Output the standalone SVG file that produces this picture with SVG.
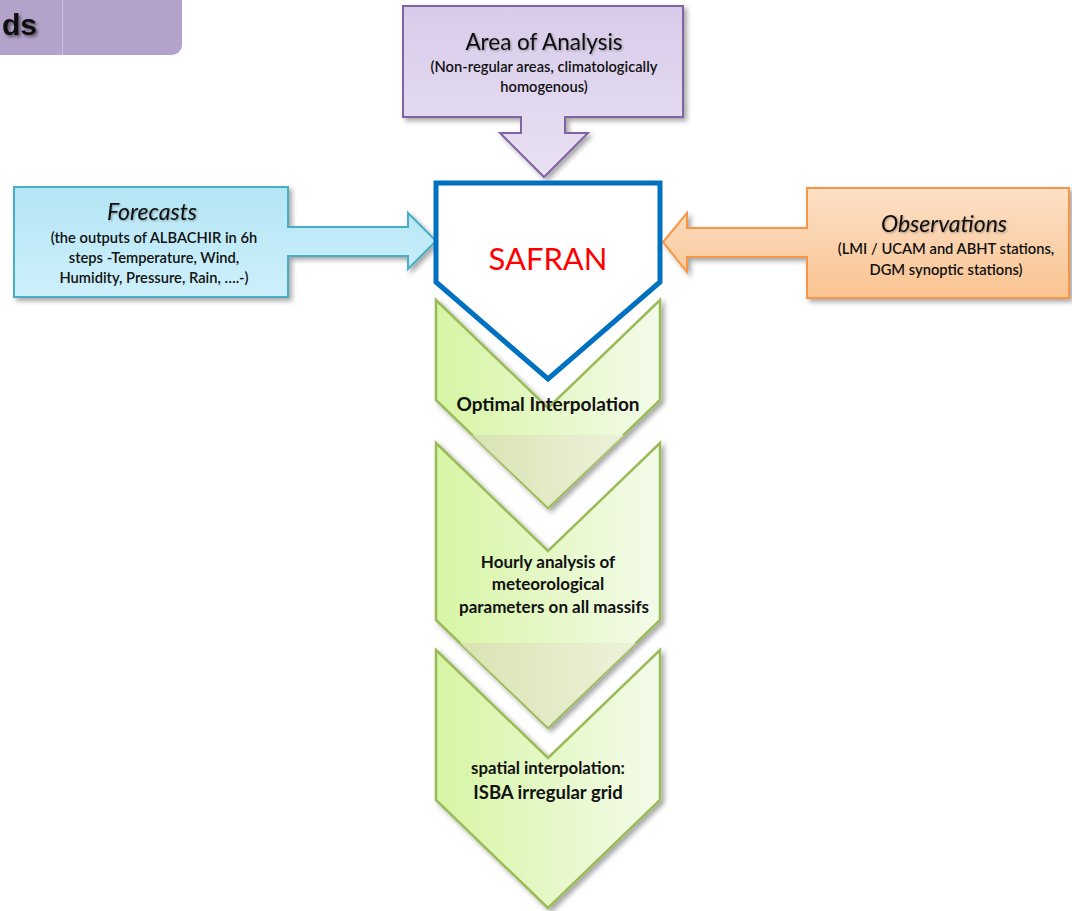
<svg xmlns="http://www.w3.org/2000/svg" width="1072" height="911" viewBox="0 0 1072 911">
<defs>
  <filter id="sh" x="-10%" y="-10%" width="130%" height="130%">
    <feDropShadow dx="3" dy="3" stdDeviation="2.5" flood-color="#000" flood-opacity="0.35"/>
  </filter>
  <filter id="tsh" x="-10%" y="-20%" width="130%" height="160%">
    <feDropShadow dx="1" dy="1" stdDeviation="1" flood-color="#000" flood-opacity="0.35"/>
  </filter>
  <filter id="tsh2" x="-20%" y="-30%" width="150%" height="180%">
    <feDropShadow dx="2" dy="2" stdDeviation="1.5" flood-color="#000" flood-opacity="0.5"/>
  </filter>
  <linearGradient id="gPurple" x1="0" y1="0" x2="0" y2="1">
    <stop offset="0" stop-color="#d8cbea"/>
    <stop offset="1" stop-color="#e9e1f3"/>
  </linearGradient>
  <linearGradient id="gBlue" x1="0" y1="0" x2="0" y2="1">
    <stop offset="0" stop-color="#b4e5f5"/>
    <stop offset="1" stop-color="#cdf0fb"/>
  </linearGradient>
  <linearGradient id="gOrange" x1="0" y1="0" x2="0" y2="1">
    <stop offset="0" stop-color="#fde0c6"/>
    <stop offset="1" stop-color="#f9c492"/>
  </linearGradient>
  <linearGradient id="gGreen" x1="0" y1="0" x2="1" y2="0">
    <stop offset="0" stop-color="#d6f5a4"/>
    <stop offset="1" stop-color="#f4fbea"/>
  </linearGradient>
  <linearGradient id="gTip" x1="0" y1="0" x2="1" y2="0">
    <stop offset="0" stop-color="#d9e0b2"/>
    <stop offset="1" stop-color="#eef0da"/>
  </linearGradient>
  <style>
    .callP { fill: url(#gPurple); stroke: #8064a2; stroke-width: 2; filter: url(#sh); }
    .callB { fill: url(#gBlue); stroke: #4bacc6; stroke-width: 2; filter: url(#sh); }
    .callO { fill: url(#gOrange); stroke: #f79646; stroke-width: 2; filter: url(#sh); }
    .chev { fill: url(#gGreen); stroke: #9bbb59; stroke-width: 2.5; stroke-linejoin: miter; filter: url(#sh); }
    .tip { fill: url(#gTip); opacity: 0.85; }
    .t { font-family: Lato, "Open Sans", "Liberation Sans", sans-serif; fill: #111; text-anchor: middle; }
    .title { font-size: 22.5px; }
    .ital { font-style: italic; font-size: 23px; }
    .sub { font-size: 14.7px; font-weight: 600; }
    .chevT { font-weight: bold; }
  </style>
</defs>
<rect width="1072" height="911" fill="#ffffff"/>

<g id="header-tab">
  <rect x="-12" y="-12" width="194" height="67" rx="10" fill="#b3a2c9"/>
  <line x1="62.5" y1="0" x2="62.5" y2="55" stroke="#cbbfdb" stroke-width="1"/>
  <text x="37" y="35" text-anchor="end" font-family="'Liberation Sans', Arial, sans-serif" font-weight="bold" font-size="30" fill="#111" filter="url(#tsh2)">ds</text>
</g>

<g id="area-of-analysis">
  <polygon class="callP" points="403,6 683,6 683,117 565,117 565,133 588,133 544,177 500,133 521,133 521,117 403,117"/>
  <text class="t title" x="544" y="50" filter="url(#tsh)">Area of Analysis</text>
  <text class="t sub" x="544" y="72">(Non-regular areas, climatologically</text>
  <text class="t sub" x="544" y="92">homogenous)</text>
</g>

<g id="forecasts">
  <polygon class="callB" points="14,187 288,187 288,227 408,227 408,213 436,241 408,269 408,256 288,256 288,297 14,297"/>
  <text class="t ital" x="152" y="220" filter="url(#tsh)">Forecasts</text>
  <text class="t sub" x="154" y="243">(the outputs of ALBACHIR in 6h</text>
  <text class="t sub" x="154" y="263">steps -Temperature, Wind,</text>
  <text class="t sub" x="154" y="283">Humidity, Pressure, Rain, ….-)</text>
</g>

<g id="observations">
  <polygon class="callO" points="807,188 1069,188 1069,298 807,298 807,257 687,257 687,272 663,242 687,213 687,228 807,228"/>
  <text class="t ital" x="944" y="232" filter="url(#tsh)">Observations</text>
  <text class="t sub" x="946" y="254">(LMI / UCAM and ABHT stations,</text>
  <text class="t sub" x="946" y="275">DGM synoptic stations)</text>
</g>

<g id="optimal-interpolation">
  <polygon class="chev" points="436,300 548,408 660,300 660,400 548,508 436,400"/>
  <polygon class="tip" points="472,435 624,435 548,507"/>
  <text class="t chevT" x="548" y="411" style="font-size:19px">Optimal Interpolation</text>
</g>

<g id="hourly-analysis">
  <polygon class="chev" points="436,443 548,551 660,443 660,620 548,728 436,620"/>
  <polygon class="tip" points="460,643 636,643 548,727"/>
  <text class="t chevT" x="548" y="568" style="font-size:17px">Hourly analysis of</text>
  <text class="t chevT" x="548" y="590" style="font-size:17px">meteorological</text>
  <text class="t chevT" x="554" y="613" style="font-size:17px">parameters on all massifs</text>
</g>

<g id="spatial-interpolation">
  <polygon class="chev" points="436,650 548,758 660,650 660,800 548,908 436,800"/>
  <text class="t chevT" x="548" y="774" style="font-size:16.8px">spatial interpolation:</text>
  <text class="t chevT" x="548" y="799" style="font-size:18.5px">ISBA irregular grid</text>
</g>

<g id="safran">
  <polygon points="436,183 660,183 660,282 548,379 436,282" fill="#ffffff" stroke="#0070c0" stroke-width="5" stroke-linejoin="miter"/>
  <text x="548" y="270" text-anchor="middle" font-family="Lato, 'Open Sans', 'Liberation Sans', sans-serif" font-size="31" fill="#ff0000">SAFRAN</text>
</g>

<g id="connectors"></g>
</svg>
